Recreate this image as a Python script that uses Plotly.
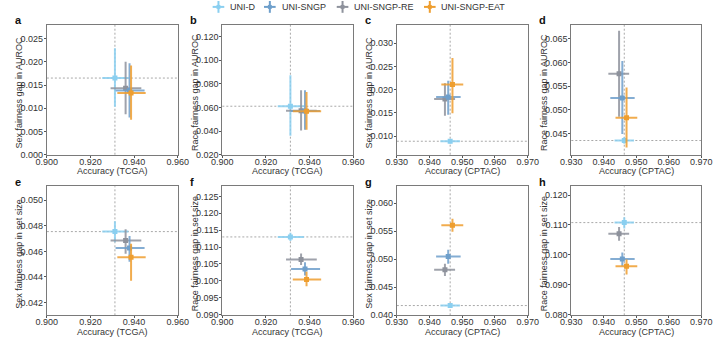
import plotly.graph_objects as go

W, H = 720, 342
models = ["UNI-D", "UNI-SNGP", "UNI-SNGP-RE", "UNI-SNGP-EAT"]
colors = ["#8ACFF0", "#6E9FCB", "#8E929C", "#EE9E2F"]
draw_order = [0, 2, 1, 3]

# Accuracy (mean, lower, upper) per model, order as `models`
acc_tcga = [0.9312, 0.9379, 0.9361, 0.9386]
acc_tcga_lo = [0.9254, 0.9315, 0.9292, 0.9323]
acc_tcga_hi = [0.9374, 0.9448, 0.9433, 0.9453]
acc_cptac = [0.9463, 0.9457, 0.9447, 0.9470]
acc_cptac_lo = [0.9433, 0.9420, 0.9414, 0.9436]
acc_cptac_hi = [0.9493, 0.9495, 0.9478, 0.9503]

# Fairness gaps per panel (mean, lower, upper)
gap_a = [0.0165, 0.0138, 0.0143, 0.0133]
gap_a_lo = [0.0103, 0.0080, 0.0087, 0.0075]
gap_a_hi = [0.0229, 0.0197, 0.0200, 0.0192]
gap_b = [0.0610, 0.0570, 0.0572, 0.0568]
gap_b_lo = [0.0360, 0.0410, 0.0404, 0.0410]
gap_b_hi = [0.0872, 0.0746, 0.0746, 0.0730]
gap_c = [0.0089, 0.0184, 0.0180, 0.0211]
gap_c_lo = [0.0084, 0.0146, 0.0144, 0.0149]
gap_c_hi = [0.0093, 0.0219, 0.0214, 0.0268]
gap_d = [0.0435, 0.0525, 0.0576, 0.0483]
gap_d_lo = [0.0428, 0.0449, 0.0485, 0.0420]
gap_d_hi = [0.0442, 0.0603, 0.0667, 0.0547]
gap_e = [0.04755, 0.04626, 0.04685, 0.04555]
gap_e_lo = [0.04672, 0.0452, 0.04582, 0.0437]
gap_e_hi = [0.04837, 0.0472, 0.04773, 0.0466]
gap_f = [0.1130, 0.1035, 0.1063, 0.1004]
gap_f_lo = [0.1118, 0.1016, 0.1047, 0.0984]
gap_f_hi = [0.1142, 0.1055, 0.1081, 0.1027]
gap_g = [0.04174, 0.0505, 0.04814, 0.05605]
gap_g_lo = [0.0414, 0.0492, 0.0470, 0.0549]
gap_g_hi = [0.0421, 0.0517, 0.0492, 0.0572]
gap_h = [0.1108, 0.0986, 0.1071, 0.0962]
gap_h_lo = [0.1088, 0.0962, 0.1047, 0.0934]
gap_h_hi = [0.1126, 0.1008, 0.1093, 0.0984]

letters = ["a", "b", "c", "d", "e", "f", "g", "h"]
y_titles = ["Sex fairness gap in AUROC", "Race fairness gap in AUROC",
            "Sex fairness gap in AUROC", "Race fairness gap in AUROC",
            "Sex fairness gap in set size", "Race fairness gap in set size",
            "Sex fairness gap in set size", "Race fairness gap in set size"]
x_titles = ["Accuracy (TCGA)", "Accuracy (TCGA)", "Accuracy (CPTAC)", "Accuracy (CPTAC)"] * 2
y_ranges = [[0, 0.028], [0.02, 0.13], [0.006, 0.034], [0.0405, 0.068],
            [0.041, 0.0511], [0.0898, 0.128], [0.040, 0.063], [0.0797, 0.123]]
y_ticks = [[0.000, 0.005, 0.010, 0.015, 0.020, 0.025],
           [0.020, 0.040, 0.060, 0.080, 0.100, 0.120],
           [0.010, 0.015, 0.020, 0.025, 0.030],
           [0.045, 0.050, 0.055, 0.060, 0.065],
           [0.042, 0.044, 0.046, 0.048, 0.050],
           [0.090, 0.095, 0.100, 0.105, 0.110, 0.115, 0.120, 0.125],
           [0.040, 0.045, 0.050, 0.055, 0.060],
           [0.080, 0.090, 0.100, 0.110, 0.120]]
x_tcga_ticks = [0.900, 0.920, 0.940, 0.960]
x_cptac_ticks = [0.930, 0.940, 0.950, 0.960, 0.970]

gaps = [(gap_a, gap_a_lo, gap_a_hi), (gap_b, gap_b_lo, gap_b_hi),
        (gap_c, gap_c_lo, gap_c_hi), (gap_d, gap_d_lo, gap_d_hi),
        (gap_e, gap_e_lo, gap_e_hi), (gap_f, gap_f_lo, gap_f_hi),
        (gap_g, gap_g_lo, gap_g_hi), (gap_h, gap_h_lo, gap_h_hi)]

col_px = [(37, 172), (218, 353), (398, 533), (578, 712)]
row_px = [(25, 157), (189, 320)]

def rgba(hexc, a):
    h = hexc.lstrip("#")
    r, g, b = int(h[0:2], 16), int(h[2:4], 16), int(h[4:6], 16)
    return f"rgba({r},{g},{b},{a})"

fig = go.Figure()
layout = {}
shapes = []
annotations = []
font_family = "Liberation Sans, Arial, sans-serif"

for p in range(8):
    r, c = divmod(p, 4)
    idx = "" if p == 0 else str(p + 1)
    xa, ya = "x" + idx, "y" + idx
    tcga = c < 2
    acc = acc_tcga if tcga else acc_cptac
    acc_lo = acc_tcga_lo if tcga else acc_cptac_lo
    acc_hi = acc_tcga_hi if tcga else acc_cptac_hi
    g, glo, ghi = gaps[p]
    for m in draw_order:
        fig.add_trace(go.Scatter(
            x=[acc[m]], y=[g[m]], mode="markers", xaxis=xa, yaxis=ya,
            showlegend=False, name=models[m],
            marker=dict(symbol="square", size=5, color=colors[m]),
            error_x=dict(type="data", symmetric=False, array=[acc_hi[m] - acc[m]],
                         arrayminus=[acc[m] - acc_lo[m]], color=rgba(colors[m], 0.85),
                         thickness=2, width=0),
            error_y=dict(type="data", symmetric=False, array=[ghi[m] - g[m]],
                         arrayminus=[g[m] - glo[m]], color=rgba(colors[m], 0.85),
                         thickness=2, width=0),
        ))
    x0, x1 = col_px[c]
    y0, y1 = row_px[r]
    axis_common = dict(showgrid=False, zeroline=False, showline=True, mirror=True,
                       linecolor="#7a7a7a", linewidth=1.2, ticks="outside", ticklen=2,
                       tickcolor="#555", tickwidth=1,
                       tickfont=dict(size=9, color="#333", family=font_family))
    layout["xaxis" + idx] = dict(domain=[x0 / W, x1 / W], anchor=ya,
                                 range=[0.900, 0.960] if tcga else [0.930, 0.970],
                                 tickvals=x_tcga_ticks if tcga else x_cptac_ticks,
                                 tickformat=".3f", ticklabelstandoff=-4, **axis_common)
    layout["yaxis" + idx] = dict(domain=[1 - y1 / H, 1 - y0 / H], anchor=xa,
                                 range=y_ranges[p], tickvals=y_ticks[p],
                                 tickformat=".3f", ticklabelstandoff=-1, **axis_common)
    # reference lines at UNI-D values
    shapes.append(dict(type="line", xref=xa, yref=ya + " domain", x0=acc[0], x1=acc[0],
                       y0=0, y1=1, line=dict(color="#a8a8a8", width=1, dash="2px,2px"), layer="below"))
    shapes.append(dict(type="line", xref=xa + " domain", yref=ya, x0=0, x1=1, y0=g[0], y1=g[0],
                       line=dict(color="#a8a8a8", width=1, dash="2px,2px"), layer="below"))
    # letters
    annotations.append(dict(text="<b>" + letters[p] + "</b>", xref="paper", yref="paper",
                            x=(x0 - 35) / W, y=1 - (20 if r == 0 else 185) / H,
                            xanchor="left", yanchor="middle", showarrow=False,
                            font=dict(size=11, color="#111", family=font_family)))
    # y title
    annotations.append(dict(text=y_titles[p], xref="paper", yref="paper",
                            x=(x0 - 36) / W, y=1 - ((y0 + y1) / 2 + 3) / H, textangle=-90,
                            xanchor="left", yanchor="middle", showarrow=False,
                            font=dict(size=9, color="#333", family=font_family)))
    # x title
    annotations.append(dict(text=x_titles[p], xref="paper", yref="paper",
                            x=(x0 + x1) / 2 / W, y=1 - (y1 + 17) / H,
                            xanchor="center", yanchor="middle", showarrow=False,
                            font=dict(size=9, color="#333", family=font_family)))

# manual legend (cross icons + labels)
legend_icon_px = [214, 267, 342, 432]
legend_y_px = 7
for m in range(4):
    cx = legend_icon_px[m]
    shapes.append(dict(type="line", xref="paper", yref="paper",
                       x0=(cx - 6) / W, x1=(cx + 6) / W,
                       y0=1 - legend_y_px / H, y1=1 - legend_y_px / H,
                       line=dict(color=colors[m], width=2)))
    shapes.append(dict(type="line", xref="paper", yref="paper",
                       x0=cx / W, x1=cx / W,
                       y0=1 - (legend_y_px - 6) / H, y1=1 - (legend_y_px + 6) / H,
                       line=dict(color=colors[m], width=2)))
    shapes.append(dict(type="rect", xref="paper", yref="paper",
                       x0=(cx - 2) / W, x1=(cx + 2) / W,
                       y0=1 - (legend_y_px - 2) / H, y1=1 - (legend_y_px + 2) / H,
                       line=dict(width=0), fillcolor=colors[m]))
    annotations.append(dict(text=models[m], xref="paper", yref="paper",
                            x=(cx + 10) / W, y=1 - legend_y_px / H,
                            xanchor="left", yanchor="middle", showarrow=False,
                            font=dict(size=9, color="#333", family=font_family)))

fig.update_layout(
    width=W, height=H, margin=dict(l=0, r=0, t=0, b=0),
    paper_bgcolor="white", plot_bgcolor="white",
    showlegend=False,
    shapes=shapes, annotations=annotations, **layout,
)
fig.write_html("out.html")
